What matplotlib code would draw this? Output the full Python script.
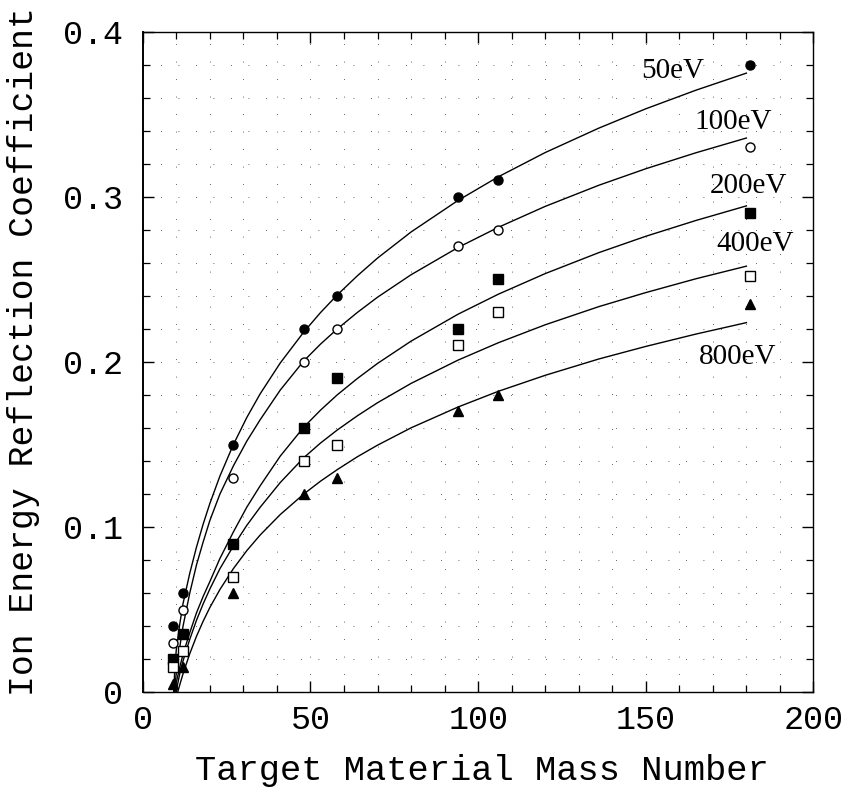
import matplotlib
matplotlib.use("Agg")
import matplotlib.pyplot as plt
from matplotlib.ticker import MultipleLocator

# measured points (target mass number vs reflection coefficient)
mass = [9, 12, 27, 48, 58, 94, 106, 181]
r_50 = [0.04, 0.06, 0.15, 0.22, 0.24, 0.30, 0.31, 0.38]
r_100 = [0.03, 0.05, 0.13, 0.20, 0.22, 0.27, 0.28, 0.33]
r_200 = [0.02, 0.035, 0.09, 0.16, 0.19, 0.22, 0.25, 0.29]
r_400 = [0.015, 0.025, 0.07, 0.14, 0.15, 0.21, 0.23, 0.252]
r_800 = [0.005, 0.015, 0.06, 0.12, 0.13, 0.17, 0.18, 0.235]

# fitted curves
fit_x = [11, 12, 14, 16, 18, 20, 23, 27, 31, 35, 41, 48, 53, 58, 64, 70, 80,
         94, 106, 120, 136, 150, 165, 180]
fit_50 = [0.041, 0.0537, 0.0720, 0.0878, 0.1018, 0.1143, 0.1309, 0.1499, 0.1663,
          0.1807, 0.1994, 0.2181, 0.2299, 0.2406, 0.2522, 0.2629, 0.2787, 0.2978,
          0.3121, 0.3268, 0.3416, 0.3533, 0.3646, 0.3749]
fit_100 = [0.027, 0.040, 0.060, 0.077, 0.091, 0.104, 0.120, 0.137, 0.152, 0.165,
           0.183, 0.2006, 0.2108, 0.2200, 0.2300, 0.2392, 0.2528, 0.2693, 0.2815,
           0.2942, 0.3070, 0.3170, 0.3267, 0.3356]
fit_200 = [0.015, 0.023, 0.036, 0.048, 0.058, 0.067, 0.081, 0.097, 0.112,
           0.125, 0.143, 0.1605, 0.1708, 0.1801, 0.1900, 0.1991, 0.2126, 0.2289,
           0.2410, 0.2535, 0.2662, 0.2761, 0.2857, 0.2945]
fit_400 = [0.011, 0.019, 0.032, 0.0435, 0.0535, 0.0625, 0.0748, 0.0885, 0.1010,
           0.1120, 0.1270, 0.1420, 0.1509, 0.1588, 0.1674, 0.1753, 0.1870, 0.2011,
           0.2116, 0.2225, 0.2335, 0.2420, 0.2504, 0.2580]
fit_800 = [0.0043, 0.0112, 0.0233, 0.0338, 0.0430, 0.0513, 0.0622, 0.0748, 0.0857,
           0.0952, 0.1076, 0.1200, 0.1278, 0.1348, 0.1426, 0.1496, 0.1601, 0.1727,
           0.1822, 0.1919, 0.2018, 0.2094, 0.2169, 0.2238]
# the steep start of each curve near the x axis
start_x = [[9.2, 9.6, 10], [9.4, 10], [9.6, 10], [9.9, 10], [10.4]]
start_y = [[0.0, 0.016, 0.026], [0.0, 0.012], [0.0, 0.006], [0.0, 0.001], [0.0]]

labels = ["50eV", "100eV", "200eV", "400eV", "800eV"]
label_x = [158, 176, 180.5, 182.5, 177.5]
label_y = [0.376, 0.3455, 0.3066, 0.2714, 0.2027]


def main() -> None:
    fig = plt.figure(figsize=(8.5, 7.92), dpi=100)
    ax = fig.add_axes([0.168, 0.126, 0.789, 0.834])

    mono = "Liberation Mono"

    fits = [fit_50, fit_100, fit_200, fit_400, fit_800]
    for fy, sx, sy in zip(fits, start_x, start_y):
        ax.plot(sx + fit_x, sy + fy, color="black", lw=1.0, zorder=2)

    ax.plot(mass, r_50, "o", color="black", ms=6.5, zorder=3)
    ax.plot(mass, r_100, "o", mfc="white", mec="black", mew=1.0, ms=6.5, zorder=3)
    ax.plot(mass, r_200, "s", color="black", ms=6.5, zorder=3)
    ax.plot(mass, r_400, "s", mfc="white", mec="black", mew=1.0, ms=6.5, zorder=3)
    ax.plot(mass, r_800, "^", color="black", ms=6.5, zorder=3)

    for txt, tx, ty in zip(labels, label_x, label_y):
        ax.text(tx, ty, txt, family="Liberation Serif", fontsize=21,
                ha="center", va="center", zorder=4)

    ax.set_xlim(0, 200)
    ax.set_ylim(0, 0.4)
    ax.xaxis.set_major_locator(MultipleLocator(50))
    ax.xaxis.set_minor_locator(MultipleLocator(10))
    ax.yaxis.set_minor_locator(MultipleLocator(0.02))
    ax.set_yticks([0, 0.1, 0.2, 0.3, 0.4])
    ax.set_yticklabels(["0", "0.1", "0.2", "0.3", "0.4"])

    ax.grid(which="both", color="black", lw=0.6, linestyle=(0, (1, 20)), alpha=0.8)
    ax.tick_params(which="both", direction="in", top=True, right=True)
    ax.tick_params(which="major", length=8, width=1.0, labelsize=24)
    ax.tick_params(which="minor", length=5, width=0.9)
    ax.tick_params(axis="x", which="major", pad=9)
    ax.tick_params(axis="y", which="major", pad=14)
    for lab in ax.get_xticklabels() + ax.get_yticklabels():
        lab.set_family(mono)

    for sp in ax.spines.values():
        sp.set_linewidth(1.0)
    ax.spines["left"].set_linewidth(1.4)

    ax.set_xlabel("Target Material Mass Number", family=mono, fontsize=25.5, va="center")
    ax.set_ylabel("Ion Energy Reflection Coefficient", family=mono, fontsize=25,
                  va="center")
    ax.xaxis.set_label_coords(0.505, -0.118)
    ax.yaxis.set_label_coords(-0.178, 0.515)

    fig.savefig("out.png", dpi=100)


if __name__ == "__main__":
    main()
